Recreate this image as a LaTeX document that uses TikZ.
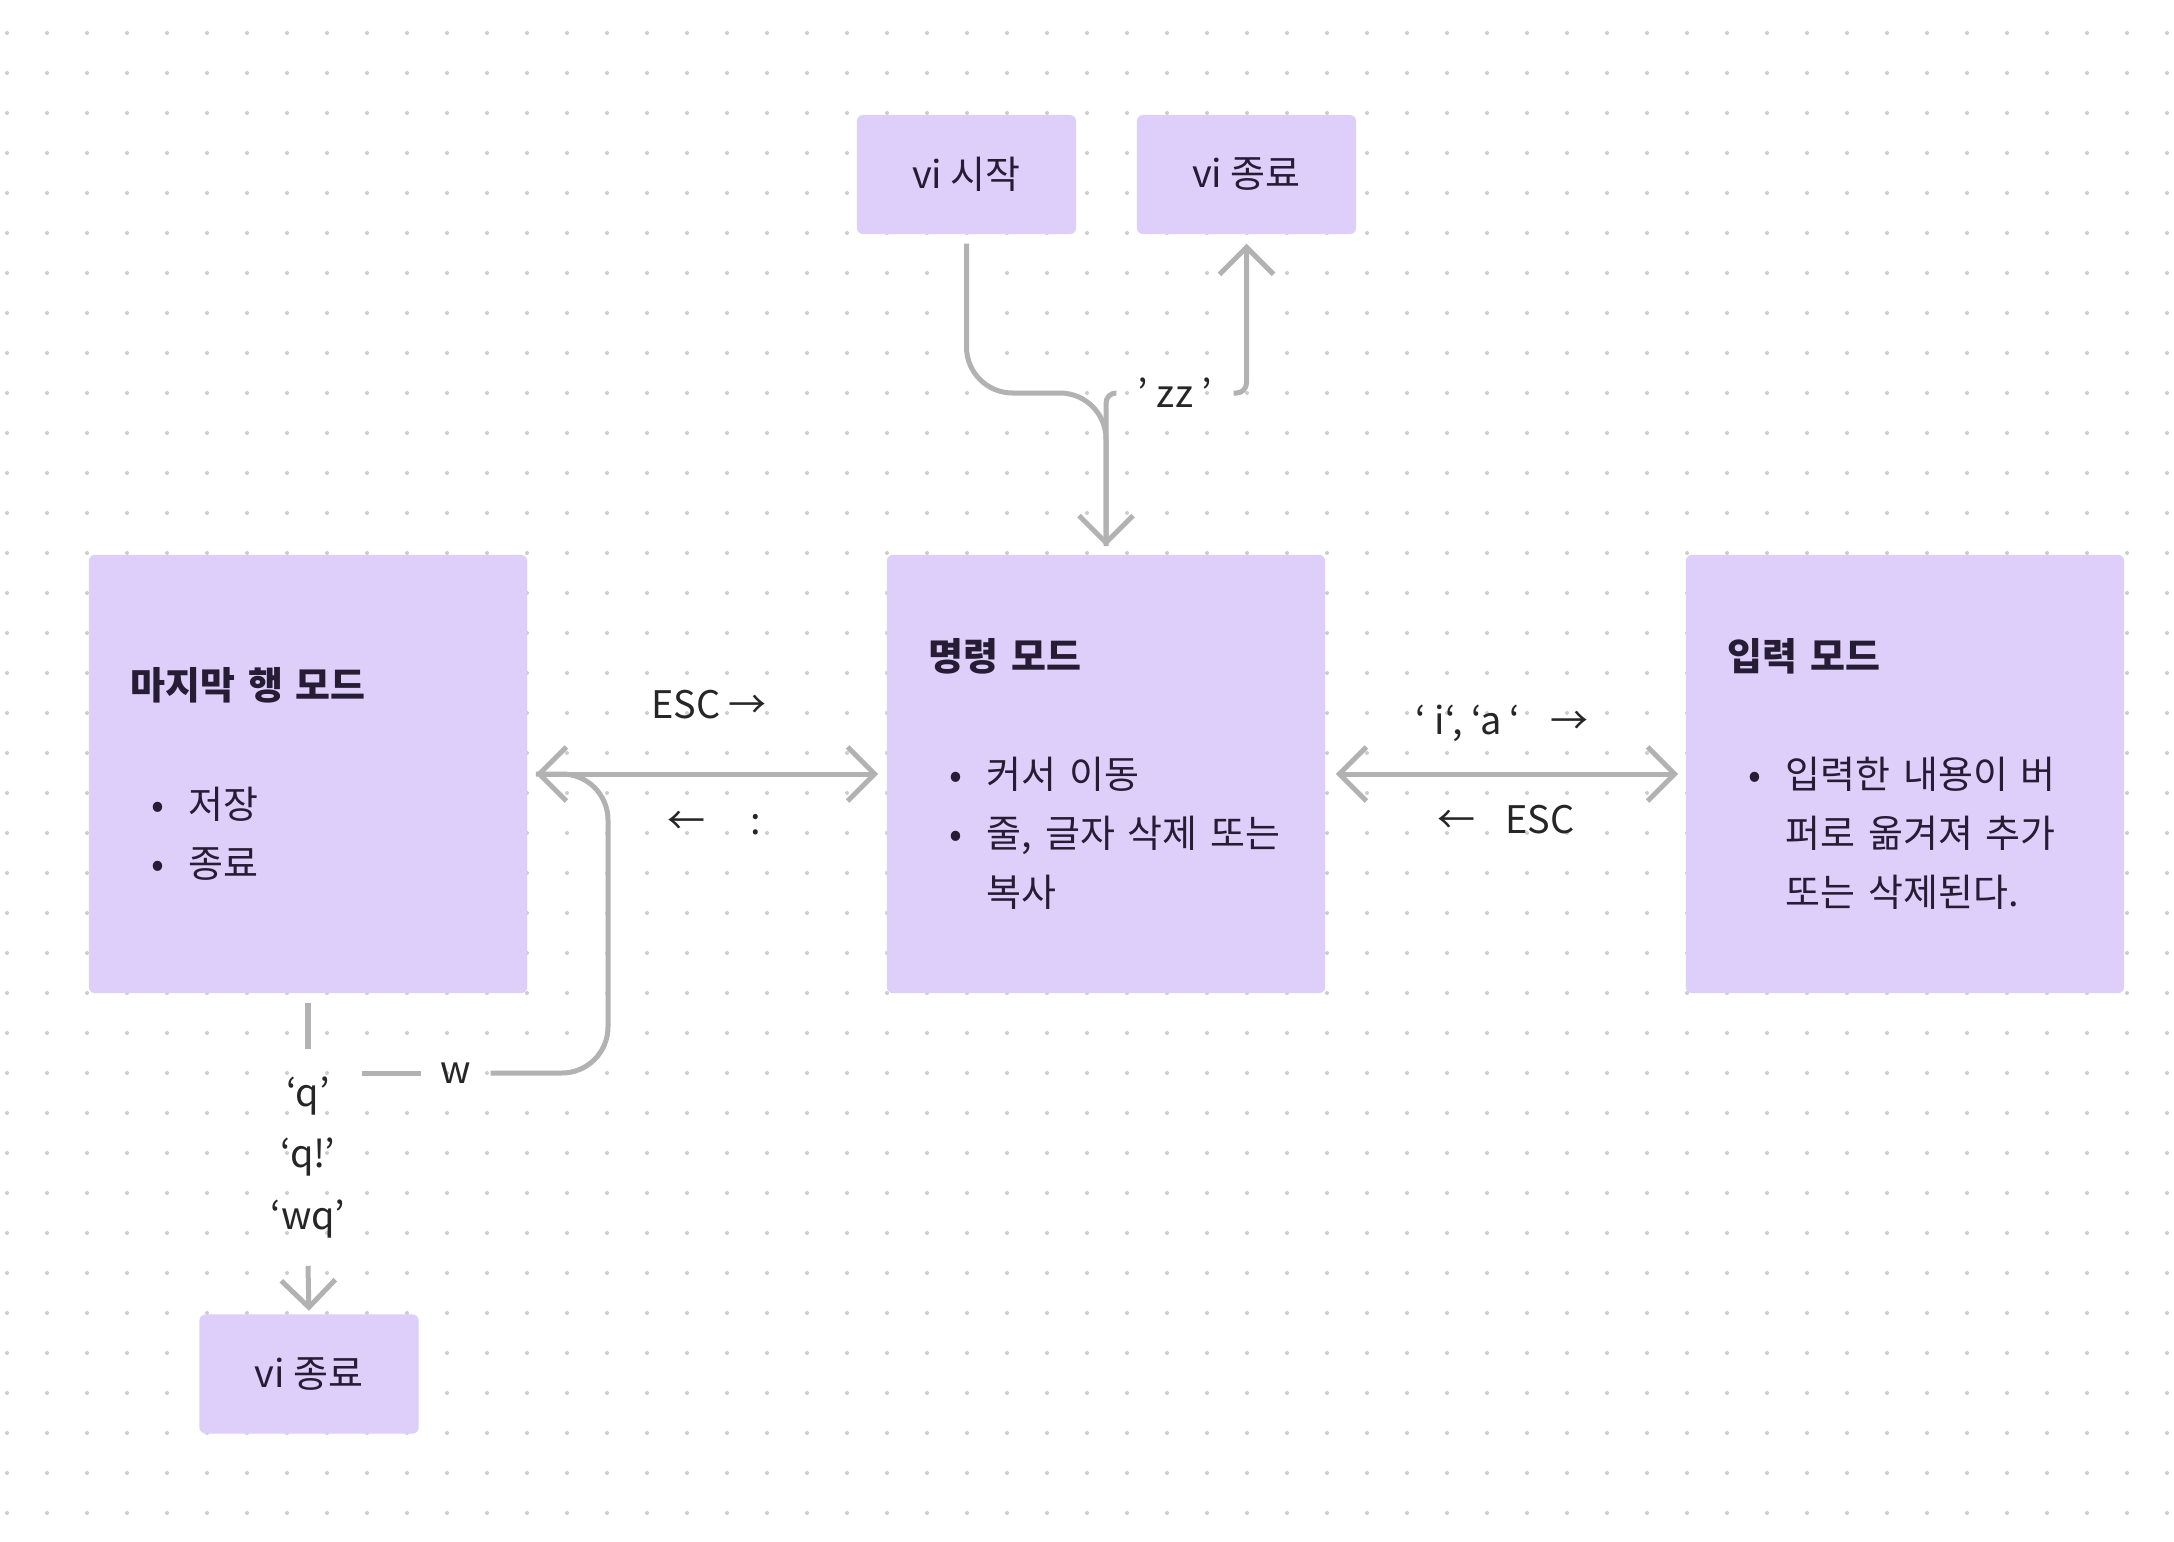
\documentclass[tikz,border=0pt]{standalone}
\usepackage{fontspec}
\setmainfont{Noto Sans CJK KR}
\usetikzlibrary{arrows.meta}

\definecolor{boxfill}{RGB}{221,206,250}
\definecolor{boxtext}{RGB}{38,28,52}
\definecolor{linkgray}{RGB}{178,178,178}
\definecolor{dotgray}{RGB}{205,205,205}

\newcommand{\modebul}[1]{\mbox{\makebox[0.58cm][l]{\makebox[0.54cm]{•}}#1}}
\newcommand{\modecont}[1]{\mbox{\hspace*{0.58cm}#1}}

\begin{document}
\begin{tikzpicture}[%
      x=0.01cm, y=-0.01cm,
      font=\fontsize{10.8pt}{16.8pt}\selectfont,
      vitip/.tip={Straight Barb[length=0.27cm,width=0.54cm]},
      modebox/.style={fill=boxfill, rounded corners=0.06cm, inner sep=0pt, text=boxtext},
      bigmode/.style={modebox, minimum width=4.38cm, minimum height=4.38cm, text width=3.54cm, align=left},
      smallmode/.style={modebox, minimum width=2.19cm, minimum height=1.19cm},
      link/.style={draw=linkgray, line width=0.05cm},
      linklabel/.style={text=black!85, inner sep=0pt},
      ]
      \fill [white] (0,0) rectangle (2174,1542);
      \useasboundingbox (0,0) rectangle (2174,1542);
      \foreach \i in {0,...,54} {
        \foreach \j in {0,...,37} {
          \fill [dotgray] (7+40*\i,33+40*\j) circle (0.02cm);
        }
      }

      \node[smallmode] (vistart) at (966.5,174.5) {vi 시작};
      \node[smallmode] (viquit) at (1246.5,174.5) {vi 종료};
      \node[bigmode] (lastline) at (308,774) {{\bfseries 마지막 행 모드}\\[16.8pt]\modebul{저장}\\\modebul{종료}};
      \node[bigmode] (command) at (1106,774) {{\bfseries 명령 모드}\\[16.8pt]\modebul{커서 이동}\\\modebul{줄, 글자 삭제 또는}\\\modecont{복사}};
      \node[bigmode] (input) at (1905,774) {{\bfseries 입력 모드}\\[16.8pt]\modebul{입력한 내용이 버}\\\modecont{퍼로 옮겨져 추가}\\\modecont{또는 삭제된다.}};
      \node[smallmode] (viquit2) at (309,1374) {vi 종료};

      \node[linklabel, minimum width=1.16cm] (zz) at (1175,393) {’ zz ’};
      \node[linklabel] (esc1) at (709,705) {ESC →};
      \node[linklabel] (colon) at (714,823) {←\hspace{0.45cm}:};
      \node[linklabel] (ia) at (1502,723) {‘ i‘, ‘a ‘\hspace{0.3cm}→};
      \node[linklabel] (esc2) at (1506,820) {←\hspace{0.3cm}ESC};
      \node[linklabel, minimum height=2.15cm, align=center, font=\fontsize{10.8pt}{17.4pt}\selectfont] (qlabel) at (308,1157.5) {‘q’\\‘q!’\\‘wq’};
      \node[linklabel, minimum width=0.68cm] (wlab) at (456,1073) {w};
      \coordinate (wfrom) at (362,1073);

      \draw[link, -vitip, rounded corners=0.46cm, shorten <=0.09cm, shorten >=0.08cm] (vistart.south) -- (966.5,393) -- (1106,393) -- (command.north);
      \draw[link, rounded corners=0.1cm, shorten <=0.08cm] (command.north) -- (1106,393) -- (zz.west);
      \draw[link, -vitip, rounded corners=0.1cm, shorten >=0.09cm] (zz.east) -- (1246.5,393) -- (viquit.south);
      \draw[link, vitip-vitip, shorten <=0.08cm, shorten >=0.08cm] (lastline.east) -- (command.west);
      \draw[link, vitip-vitip, shorten <=0.1cm, shorten >=0.07cm] (command.east) -- (input.west);
      \draw[link, shorten <=0.09cm] (lastline.south) -- (qlabel.north);
      \draw[link, -vitip, shorten >=0.03cm] (qlabel.south) -- (viquit2.north);
      \draw[link] (wfrom) -- (wlab.west);
      \draw[link, rounded corners=0.46cm, shorten >=0.08cm] (wlab.east) -- (608,1073) -- (608,774) -- (lastline.east);
\end{tikzpicture}
\end{document}
